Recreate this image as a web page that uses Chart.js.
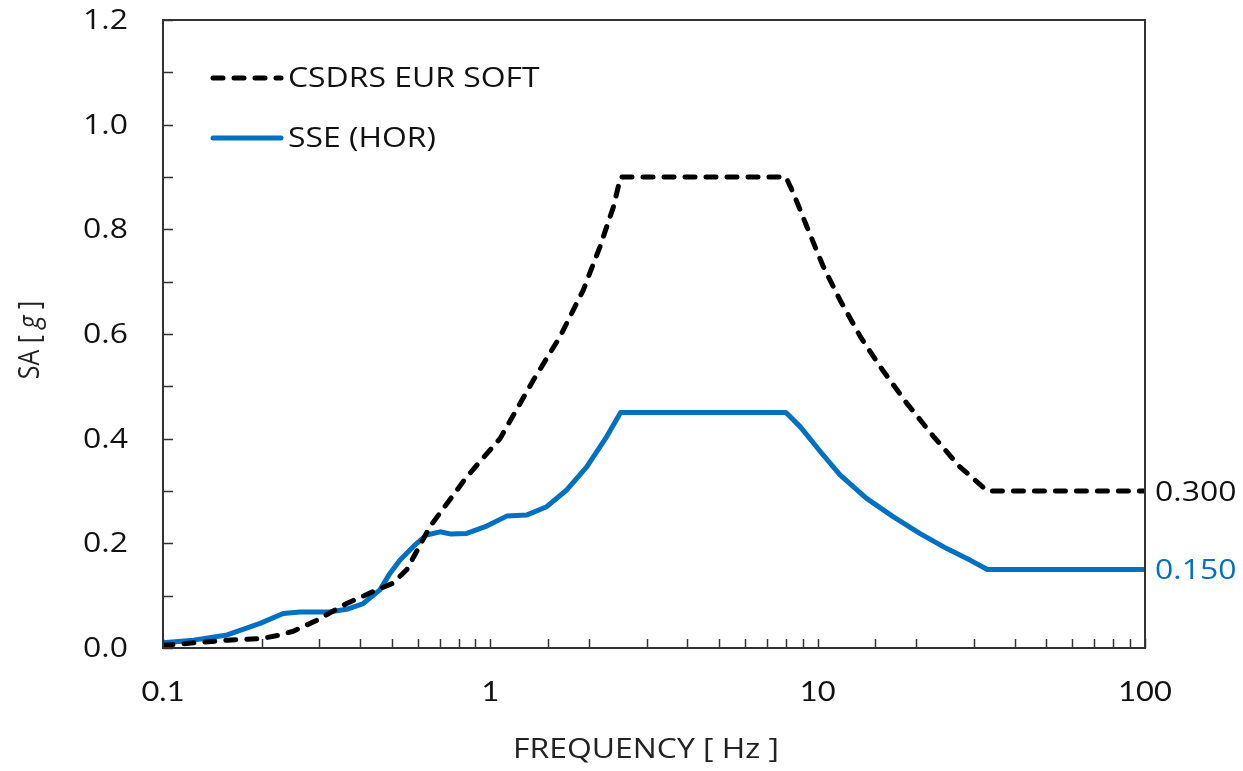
<!DOCTYPE html>
<html lang="en">
  <head>
    <meta charset="UTF-8" />
    <title>CSDRS vs SSE</title>
    <script src="https://cdn.jsdelivr.net/npm/chart.js@4.4.1/dist/chart.umd.min.js"></script>
    <style>
      html, body { margin: 0; padding: 0; background: #fff; }
      #wrap { width: 1243px; height: 771px; position: relative; }
    </style>
  </head>
  <body>
    <div id="wrap"><canvas id="myChart"></canvas></div>
  </body>
</html>

<script>
  // values
  var csdrsFreq = [0.1, 0.125, 0.157, 0.2, 0.228, 0.25, 0.295, 0.364, 0.439, 0.505, 0.556, 0.654, 0.847, 1.07, 1.354, 1.633, 1.923, 2.163, 2.377, 2.5,
                   8.0, 8.43, 9.27, 10.4, 11.7, 13.5, 15.5, 18.7, 22.6, 27.2, 33.0, 100];
  var csdrsSA   = [0.005, 0.010, 0.015, 0.018, 0.025, 0.032, 0.053, 0.085, 0.108, 0.124, 0.150, 0.232, 0.327, 0.400, 0.512, 0.595, 0.684, 0.767, 0.843, 0.900,
                   0.900, 0.869, 0.805, 0.729, 0.665, 0.595, 0.538, 0.468, 0.404, 0.346, 0.300, 0.300];

  var sseFreq = [0.1, 0.124, 0.157, 0.198, 0.233, 0.262, 0.324, 0.364, 0.409, 0.46, 0.494, 0.53, 0.582, 0.639, 0.702, 0.753, 0.847, 0.975, 1.122, 1.29,
                 1.486, 1.712, 1.97, 2.268, 2.5, 8.0, 8.84, 10.2, 11.7, 14.1, 17.0, 20.5, 24.8, 29.2, 33.0, 100];
  var sseSA   = [0.010, 0.015, 0.025, 0.047, 0.066, 0.069, 0.069, 0.074, 0.085, 0.111, 0.143, 0.168, 0.194, 0.216, 0.222, 0.218, 0.219, 0.233, 0.252, 0.254,
                 0.270, 0.302, 0.346, 0.404, 0.450, 0.450, 0.423, 0.375, 0.331, 0.286, 0.251, 0.219, 0.190, 0.168, 0.150, 0.150];

  var xTickLabels = [0.1, 1, 10, 100];
  var seriesNames = ['CSDRS EUR SOFT', 'SSE (HOR)'];
  var seriesColors = ['#000000', '#0070C0'];

  function pts(xs, ys) {
    return xs.map(function (x, i) { return { x: x, y: ys[i] }; });
  }

  var FONT = "'Open Sans', 'Noto Sans', sans-serif";
  var SX = 1.14; // the original text is a bit wide
  var DASH = [10, 11];

  function wideText(ctx, txt, x, y, align, font, color) {
    ctx.save();
    ctx.font = font;
    ctx.fillStyle = color;
    ctx.textBaseline = 'middle';
    ctx.textAlign = 'left';
    var w = ctx.measureText(txt).width * SX;
    var x0 = align === 'right' ? x - w : align === 'center' ? x - w / 2 : x;
    ctx.translate(x0, y);
    ctx.scale(SX, 1);
    ctx.fillText(txt, 0, 0);
    ctx.restore();
  }

  // inward tick marks, frame, tick labels, legend, end labels and axis titles
  var decorations = {
    id: 'decorations',
    afterDatasetsDraw: function (chart) {
      var ctx = chart.ctx, a = chart.chartArea;
      var xs = chart.scales.x, ys = chart.scales.y;
      ctx.save();
      ctx.strokeStyle = '#333';
      ctx.lineWidth = 1.5;
      ctx.beginPath();
      xs.ticks.forEach(function (t) {
        var px = Math.round(xs.getPixelForValue(t.value)) + 0.5;
        ctx.moveTo(px, a.bottom);
        ctx.lineTo(px, a.bottom - 9);
      });
      ys.ticks.forEach(function (t) {
        var py = Math.round(ys.getPixelForValue(t.value)) + 0.5;
        ctx.moveTo(a.left, py);
        ctx.lineTo(a.left + 10, py);
      });
      ctx.stroke();
      ctx.lineWidth = 2;
      ctx.strokeRect(a.left, a.top, a.right - a.left, a.bottom - a.top);
      ctx.restore();

      // tick labels
      xs.ticks.forEach(function (t) {
        var v = Number(t.value.toPrecision(6));
        if (xTickLabels.indexOf(v) >= 0) {
          wideText(ctx, String(v), xs.getPixelForValue(t.value), a.bottom + 44, 'center', "27px Lato, 'Liberation Sans', sans-serif", '#111');
        }
      });
      ys.ticks.forEach(function (t, i) {
        if (i % 2 === 0) {
          wideText(ctx, t.value.toFixed(1), a.left - 35, ys.getPixelForValue(t.value) + 1, 'right', '28px ' + FONT, '#111');
        }
      });

      // legend
      [78, 138].forEach(function (ly, i) {
        ctx.save();
        ctx.beginPath();
        ctx.lineWidth = 5;
        ctx.strokeStyle = seriesColors[i];
        ctx.setLineDash(i === 0 ? DASH : []);
        ctx.lineCap = 'round';
        ctx.moveTo(213, ly);
        ctx.lineTo(281, ly);
        ctx.stroke();
        ctx.restore();
        wideText(ctx, seriesNames[i], 288, ly + 1, 'left', '28px ' + FONT, '#111');
      });

      // end-value labels right of the frame
      var ends = [csdrsSA[csdrsSA.length - 1], sseSA[sseSA.length - 1]];
      ends.forEach(function (v, i) {
        wideText(ctx, v.toFixed(3), a.right + 10, ys.getPixelForValue(v) + 2, 'left', '28px ' + FONT, i === 0 ? '#111' : seriesColors[1]);
      });

      // axis titles
      wideText(ctx, 'FREQUENCY [ Hz ]', (a.left + a.right) / 2 - 8, 750, 'center', '28px ' + FONT, '#222');

      ctx.save();
      ctx.fillStyle = '#222';
      ctx.textBaseline = 'middle';
      ctx.translate(31, (a.top + a.bottom) / 2 + 6);
      ctx.scale(SX, 1);
      ctx.rotate(-Math.PI / 2);
      var p1 = 'SA [ ', p2 = 'g', p3 = ' ]';
      ctx.font = '25px ' + FONT;
      var w1 = ctx.measureText(p1).width, w3 = ctx.measureText(p3).width;
      ctx.font = 'italic 25px ' + FONT;
      var w2 = ctx.measureText(p2).width;
      var x0 = -(w1 + w2 + w3) / 2;
      ctx.textAlign = 'left';
      ctx.font = '25px ' + FONT;
      ctx.fillText(p1, x0, 0);
      ctx.font = 'italic 25px ' + FONT;
      ctx.fillText(p2, x0 + w1, 0);
      ctx.font = '25px ' + FONT;
      ctx.fillText(p3, x0 + w1 + w2, 0);
      ctx.restore();
    }
  };

  var ctx = document.getElementById('myChart').getContext('2d');
  var myChart = new Chart(ctx, {
    type: 'line',
    data: {
      datasets: [
        {
          label: seriesNames[0],
          data: pts(csdrsFreq, csdrsSA),
          borderColor: seriesColors[0],
          borderWidth: 5,
          borderDash: DASH,
          borderCapStyle: 'round',
          borderJoinStyle: 'round',
          pointRadius: 0,
          tension: 0,
          fill: false
        },
        {
          label: seriesNames[1],
          data: pts(sseFreq, sseSA),
          borderColor: seriesColors[1],
          borderWidth: 5,
          borderJoinStyle: 'round',
          borderCapStyle: 'round',
          pointRadius: 0,
          tension: 0,
          fill: false
        }
      ]
    },
    options: {
      responsive: true,
      maintainAspectRatio: false,
      animation: false,
      layout: { padding: { left: 0, right: 98, top: 20, bottom: 0 } },
      plugins: { legend: { display: false }, tooltip: { enabled: false } },
      scales: {
        x: {
          type: 'logarithmic',
          min: 0.1,
          max: 100,
          afterFit: function (s) { s.height = 123; s.paddingLeft = 0; s.paddingRight = 0; },
          grid: { display: false, drawTicks: false },
          border: { display: false },
          ticks: { display: false, autoSkip: false }
        },
        y: {
          min: 0,
          max: 1.2,
          afterFit: function (s) { s.width = 163; s.paddingTop = 0; s.paddingBottom = 0; },
          grid: { display: false, drawTicks: false },
          border: { display: false },
          ticks: { display: false, stepSize: 0.1 }
        }
      }
    },
    plugins: [decorations]
  });
</script>
